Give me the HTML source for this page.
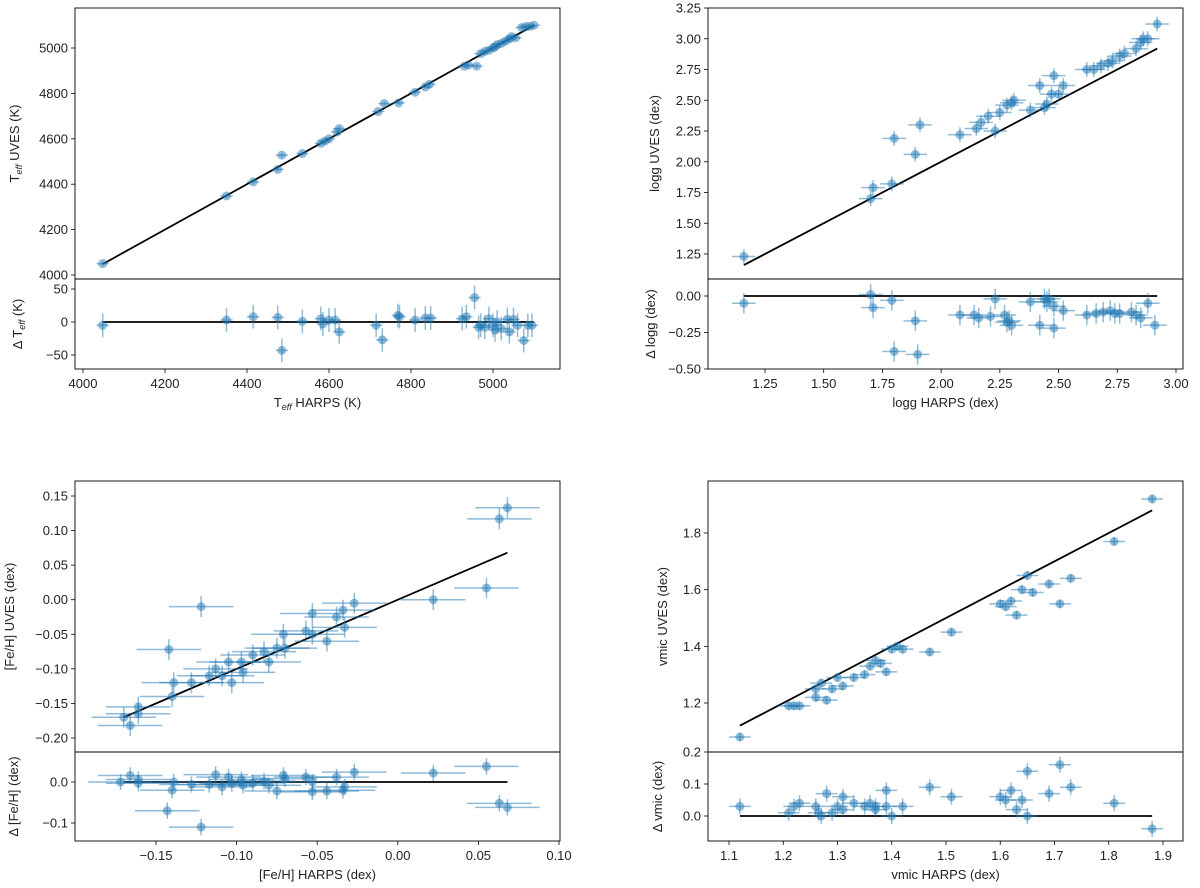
<!DOCTYPE html>
<html><head><meta charset="utf-8"><style>
body{margin:0;background:#fff}
svg{font-family:"Liberation Sans","DejaVu Sans",sans-serif;display:block}
</style></head><body>
<svg id="chart" width="1200" height="888" viewBox="0 0 1200 888" xmlns="http://www.w3.org/2000/svg"></svg>
<script>
// ---- Teff panel data ----
const teffMainX=[4048,4350,4415,4475,4485,4535,4580,4590,4600,4620,4625,4720,4735,4770,4810,4835,4845,4930,4940,4960,4970,4980,4990,5000,5005,5010,5020,5030,5040,5045,5055,5070,5080,5090,5100];
const teffMainY=[4050,4348,4410,4465,4528,4535,4580,4590,4600,4630,4645,4720,4755,4758,4805,4828,4840,4920,4925,4920,4975,4985,4990,5000,5005,5015,5020,5030,5040,5050,5045,5090,5095,5095,5100];
const teffResX=[4048,4350,4415,4475,4485,4535,4580,4585,4600,4615,4625,4715,4730,4768,4772,4810,4835,4848,4925,4935,4955,4965,4970,4980,4990,5000,5005,5010,5020,5035,5040,5050,5060,5075,5085,5095];
const teffResY=[-5,3,8,7,-43,1,5,-3,3,3,-15,-5,-27,10,8,3,6,6,5,8,37,-8,-5,-8,5,-5,-12,0,-10,4,-15,4,-5,-28,-5,-5];
const teffXTicks=[4000,4200,4400,4600,4800,5000];
const teffYTicks=[4000,4200,4400,4600,4800,5000];
const teffRTicks=[-50,0,50];
// ---- logg panel data ----
const loggMainX=[1.16,1.70,1.71,1.79,1.80,1.89,1.91,2.08,2.15,2.17,2.20,2.23,2.25,2.28,2.30,2.31,2.38,2.42,2.44,2.45,2.47,2.48,2.50,2.52,2.62,2.65,2.68,2.71,2.73,2.76,2.78,2.83,2.85,2.86,2.88,2.92];
const loggMainY=[1.23,1.70,1.79,1.82,2.19,2.06,2.30,2.22,2.27,2.32,2.37,2.25,2.40,2.46,2.48,2.50,2.42,2.62,2.44,2.47,2.55,2.70,2.55,2.62,2.75,2.75,2.78,2.80,2.82,2.86,2.88,2.92,2.97,3.00,3.00,3.12];
const loggResX=[1.16,1.70,1.71,1.79,1.80,1.89,1.90,2.08,2.14,2.16,2.21,2.23,2.27,2.28,2.29,2.30,2.38,2.42,2.44,2.45,2.46,2.48,2.48,2.52,2.62,2.66,2.69,2.72,2.74,2.76,2.81,2.83,2.85,2.88,2.91];
const loggResY=[-0.05,0.01,-0.08,-0.03,-0.38,-0.17,-0.40,-0.13,-0.13,-0.15,-0.14,-0.02,-0.13,-0.18,-0.17,-0.20,-0.04,-0.20,-0.02,-0.04,-0.02,-0.07,-0.22,-0.10,-0.13,-0.12,-0.11,-0.10,-0.12,-0.12,-0.11,-0.13,-0.15,-0.05,-0.20];
const loggXTicks=[1.25,1.5,1.75,2.0,2.25,2.5,2.75,3.0];
const loggYTicks=[1.25,1.5,1.75,2.0,2.25,2.5,2.75,3.0,3.25];
const loggRTicks=[-0.5,-0.25,0];
// ---- [Fe/H] panel data ----
const fehMainX=[-0.17,-0.166,-0.161,-0.161,-0.142,-0.140,-0.139,-0.128,-0.122,-0.117,-0.113,-0.109,-0.105,-0.103,-0.097,-0.096,-0.090,-0.083,-0.080,-0.075,-0.071,-0.070,-0.057,-0.053,-0.053,-0.044,-0.038,-0.034,-0.033,-0.027,0.022,0.055,0.063,0.068];
const fehMainY=[-0.17,-0.182,-0.155,-0.165,-0.072,-0.140,-0.120,-0.120,-0.010,-0.110,-0.100,-0.110,-0.090,-0.120,-0.090,-0.105,-0.080,-0.075,-0.090,-0.070,-0.050,-0.070,-0.045,-0.050,-0.020,-0.060,-0.025,-0.015,-0.040,-0.005,0.000,0.017,0.117,0.133];
const fehResX=[-0.172,-0.166,-0.161,-0.161,-0.139,-0.140,-0.143,-0.128,-0.122,-0.117,-0.113,-0.109,-0.105,-0.103,-0.097,-0.096,-0.090,-0.083,-0.080,-0.075,-0.071,-0.070,-0.057,-0.053,-0.053,-0.044,-0.038,-0.034,-0.033,-0.027,0.022,0.055,0.063,0.068];
const fehResY=[0.0,0.016,0.006,-0.003,0.0,-0.02,-0.07,-0.006,-0.11,-0.006,0.018,-0.012,0.012,-0.004,0.006,-0.008,-0.002,0.002,-0.008,-0.022,0.016,0.008,0.012,0.0,-0.024,-0.022,0.012,-0.02,-0.012,0.024,0.022,0.038,-0.052,-0.062];
const fehXTicks=[-0.15,-0.10,-0.05,0.00,0.05,0.10];
const fehYTicks=[-0.20,-0.15,-0.10,-0.05,0.00,0.05,0.10,0.15];
const fehRTicks=[-0.1,0.0];
// ---- vmic panel data ----
const vmicMainX=[1.12,1.21,1.22,1.23,1.26,1.26,1.27,1.28,1.29,1.30,1.31,1.33,1.35,1.36,1.37,1.38,1.39,1.40,1.41,1.42,1.47,1.51,1.60,1.61,1.62,1.63,1.64,1.65,1.66,1.69,1.71,1.73,1.81,1.88];
const vmicMainY=[1.08,1.19,1.19,1.19,1.22,1.25,1.27,1.21,1.25,1.29,1.26,1.29,1.30,1.33,1.35,1.34,1.31,1.39,1.40,1.39,1.38,1.45,1.55,1.54,1.56,1.51,1.60,1.65,1.59,1.62,1.55,1.64,1.77,1.92];
const vmicResX=[1.12,1.21,1.22,1.23,1.26,1.265,1.27,1.28,1.29,1.30,1.31,1.31,1.33,1.35,1.36,1.37,1.37,1.39,1.39,1.40,1.42,1.47,1.51,1.60,1.61,1.62,1.63,1.64,1.65,1.65,1.69,1.71,1.73,1.81,1.88];
const vmicResY=[0.03,0.01,0.03,0.04,0.03,0.01,0.0,0.07,0.01,0.03,0.06,0.02,0.04,0.03,0.04,0.02,0.03,0.08,0.03,0.0,0.03,0.09,0.06,0.06,0.05,0.08,0.02,0.05,0.14,0.0,0.07,0.16,0.09,0.04,-0.04];
const vmicXTicks=[1.1,1.2,1.3,1.4,1.5,1.6,1.7,1.8,1.9];
const vmicYTicks=[1.2,1.4,1.6,1.8];
const vmicRTicks=[0.0,0.1,0.2];

const NS='http://www.w3.org/2000/svg';
const svg=document.getElementById('chart');
function mk(tag,attrs,parent){const e=document.createElementNS(NS,tag);for(const k in attrs)e.setAttribute(k,attrs[k]);(parent||svg).appendChild(e);return e;}
function lin(d0,p0,d1,p1){return v=>p0+(v-d0)*(p1-p0)/(d1-d0);}
const C='#1f77b4';
function fmt(v,dec){let s=v.toFixed(dec);if(v<0&&Math.abs(v)>1e-9)s='\u2212'+s.slice(1);if(Math.abs(v)<1e-9)s=(0).toFixed(dec);return s;}

function drawPoints(g,xs,ys,sx,sy,ex,ey){
  for(let i=0;i<xs.length;i++){
    const px=sx(xs[i]),py=sy(ys[i]);
    const pt=mk('g',{},g);
    
    
    mk('line',{x1:sx(xs[i]-ex),x2:sx(xs[i]+ex),y1:py,y2:py,stroke:C,'stroke-opacity':0.5,'stroke-width':1.5},pt);
    mk('line',{x1:px,x2:px,y1:sy(ys[i]-ey),y2:sy(ys[i]+ey),stroke:C,'stroke-opacity':0.5,'stroke-width':1.5},pt);
    mk('circle',{cx:px,cy:py,r:4.5,fill:C,'fill-opacity':0.5},pt);
  }
}
function xTicks(g,ticks,sx,y,dec){
  ticks.forEach(t=>{const x=sx(t);
    mk('line',{x1:x,x2:x,y1:y,y2:y+4,stroke:'#000','stroke-width':0.8},g);
    const tx=mk('text',{x:x,y:y+19,'text-anchor':'middle','font-size':13,fill:'#222'},g);tx.textContent=fmt(t,dec);
    
    
  });
}
function yTicks(g,ticks,sy,x,dec){
  ticks.forEach(t=>{const y=sy(t);
    mk('line',{x1:x-4,x2:x,y1:y,y2:y,stroke:'#000','stroke-width':0.8},g);
    const tx=mk('text',{x:x-7,y:y+4.5,'text-anchor':'end','font-size':13,fill:'#222'},g);tx.textContent=fmt(t,dec);
    
    
  });
}
function ylabel(g,x,y,html,name){
  const t=mk('text',{transform:`translate(${x},${y}) rotate(-90)`,'text-anchor':'middle','font-size':13,fill:'#222'},g);
  t.innerHTML=html;
  
  
}
function xlabel(g,x,y,html,name){
  const t=mk('text',{x:x,y:y,'text-anchor':'middle','font-size':13,fill:'#222'},g);
  t.innerHTML=html;
  
  
}
function panel(cfg){
  const g=mk('g',{});
  
  
  const sx=lin(cfg.xd[0],cfg.xp[0],cfg.xd[1],cfg.xp[1]);
  const sy=lin(cfg.yd[0],cfg.yp[0],cfg.yd[1],cfg.yp[1]);
  const sr=lin(cfg.rd[0],cfg.rp[0],cfg.rd[1],cfg.rp[1]);
  const L=cfg.box[0],R=cfg.box[1],T=cfg.box[2],S=cfg.box[3],B=cfg.box[4];
  const clipId='clip-'+cfg.name;
  const defs=mk('defs',{},g);
  const cp=mk('clipPath',{id:clipId},defs);mk('rect',{x:L,y:T,width:R-L,height:B-T},cp);
  const cp2=mk('clipPath',{id:clipId+'r'},defs);mk('rect',{x:L,y:S,width:R-L,height:B-S},cp2);
  const cp1=mk('clipPath',{id:clipId+'m'},defs);mk('rect',{x:L,y:T,width:R-L,height:S-T},cp1);
  const gm=mk('g',{'clip-path':`url(#${clipId}m)`},g);
  
  
  const xs=cfg.mx,lo=Math.min(...xs),hi=Math.max(...xs);
  const l1=mk('line',{x1:sx(lo),y1:sy(lo),x2:sx(hi),y2:sy(hi),stroke:'#000','stroke-width':1.8},gm);
  
  
  drawPoints(gm,cfg.mx,cfg.my,sx,sy,cfg.ex,cfg.ey);
  const gr=mk('g',{'clip-path':`url(#${clipId}r)`},g);
  
  
  const l2=mk('line',{x1:sx(lo),y1:sr(0),x2:sx(hi),y2:sr(0),stroke:'#000','stroke-width':1.8},gr);
  
  
  drawPoints(gr,cfg.rx,cfg.ry,sx,sr,cfg.ex,cfg.er);
  mk('rect',{x:L,y:T,width:R-L,height:S-T,fill:'none',stroke:'#000','stroke-width':0.9},g);
  mk('rect',{x:L,y:S,width:R-L,height:B-S,fill:'none',stroke:'#000','stroke-width':0.9},g);
  xTicks(g,cfg.xt,sx,B,cfg.xdec);
  yTicks(g,cfg.yt,sy,L,cfg.ydec);
  yTicks(g,cfg.rt,sr,L,cfg.rdec);
  xlabel(g,(L+R)/2,B+38,cfg.xl,'x-axis-title');
  ylabel(g,cfg.ylx,(T+S)/2,cfg.yl,'y-axis-title');
  ylabel(g,cfg.rlx,(S+B)/2,cfg.rl,'residual-axis-title');
}
const TE='T<tspan font-size="9" font-style="italic" dy="3">eff</tspan><tspan dy="-3">';
panel({name:'teff-panel',box:[75,560,8,279,369],xd:[4000,5000],xp:[83,493],yd:[4000,5000],yp:[275,48],rd:[-50,50],rp:[355,289],
  mx:teffMainX,my:teffMainY,rx:teffResX,ry:teffResY,ex:15,ey:8,er:18,xt:teffXTicks,yt:teffYTicks,rt:teffRTicks,xdec:0,ydec:0,rdec:0,
  xl:TE+' HARPS (K)</tspan>',yl:TE+' UVES (K)</tspan>',rl:'Δ '+TE+' (K)</tspan>',ylx:19,rlx:22});
panel({name:'logg-panel',box:[708,1183,8,279,369],xd:[1.25,3.0],xp:[765,1176],yd:[1.25,3.25],yp:[254,8],rd:[0,-0.5],rp:[296,369],
  mx:loggMainX,my:loggMainY,rx:loggResX,ry:loggResY,ex:0.05,ey:0.06,er:0.07,xt:loggXTicks,yt:loggYTicks,rt:loggRTicks,xdec:2,ydec:2,rdec:2,
  xl:'logg HARPS (dex)',yl:'logg UVES (dex)',rl:'Δ logg (dex)',ylx:659,rlx:655});
panel({name:'feh-panel',box:[75,560,481,752,841],xd:[-0.15,0.10],xp:[156,559],yd:[-0.20,0.15],yp:[738,496],rd:[0,-0.1],rp:[782,823],
  mx:fehMainX,my:fehMainY,rx:fehResX,ry:fehResY,ex:0.02,ey:0.015,er:0.02,xt:fehXTicks,yt:fehYTicks,rt:fehRTicks,xdec:2,ydec:2,rdec:1,
  xl:'[Fe/H] HARPS (dex)',yl:'[Fe/H] UVES (dex)',rl:'Δ [Fe/H] (dex)',ylx:14,rlx:18});
panel({name:'vmic-panel',box:[708,1183,481,752,841],xd:[1.1,1.9],xp:[729,1163],yd:[1.2,1.8],yp:[703,533],rd:[0,0.2],rp:[816,752],
  mx:vmicMainX,my:vmicMainY,rx:vmicResX,ry:vmicResY,ex:0.02,ey:0.015,er:0.025,xt:vmicXTicks,yt:vmicYTicks,rt:vmicRTicks,xdec:1,ydec:1,rdec:1,
  xl:'vmic HARPS (dex)',yl:'vmic UVES (dex)',rl:'Δ vmic (dex)',ylx:667,rlx:662});
</script>
</body></html>
